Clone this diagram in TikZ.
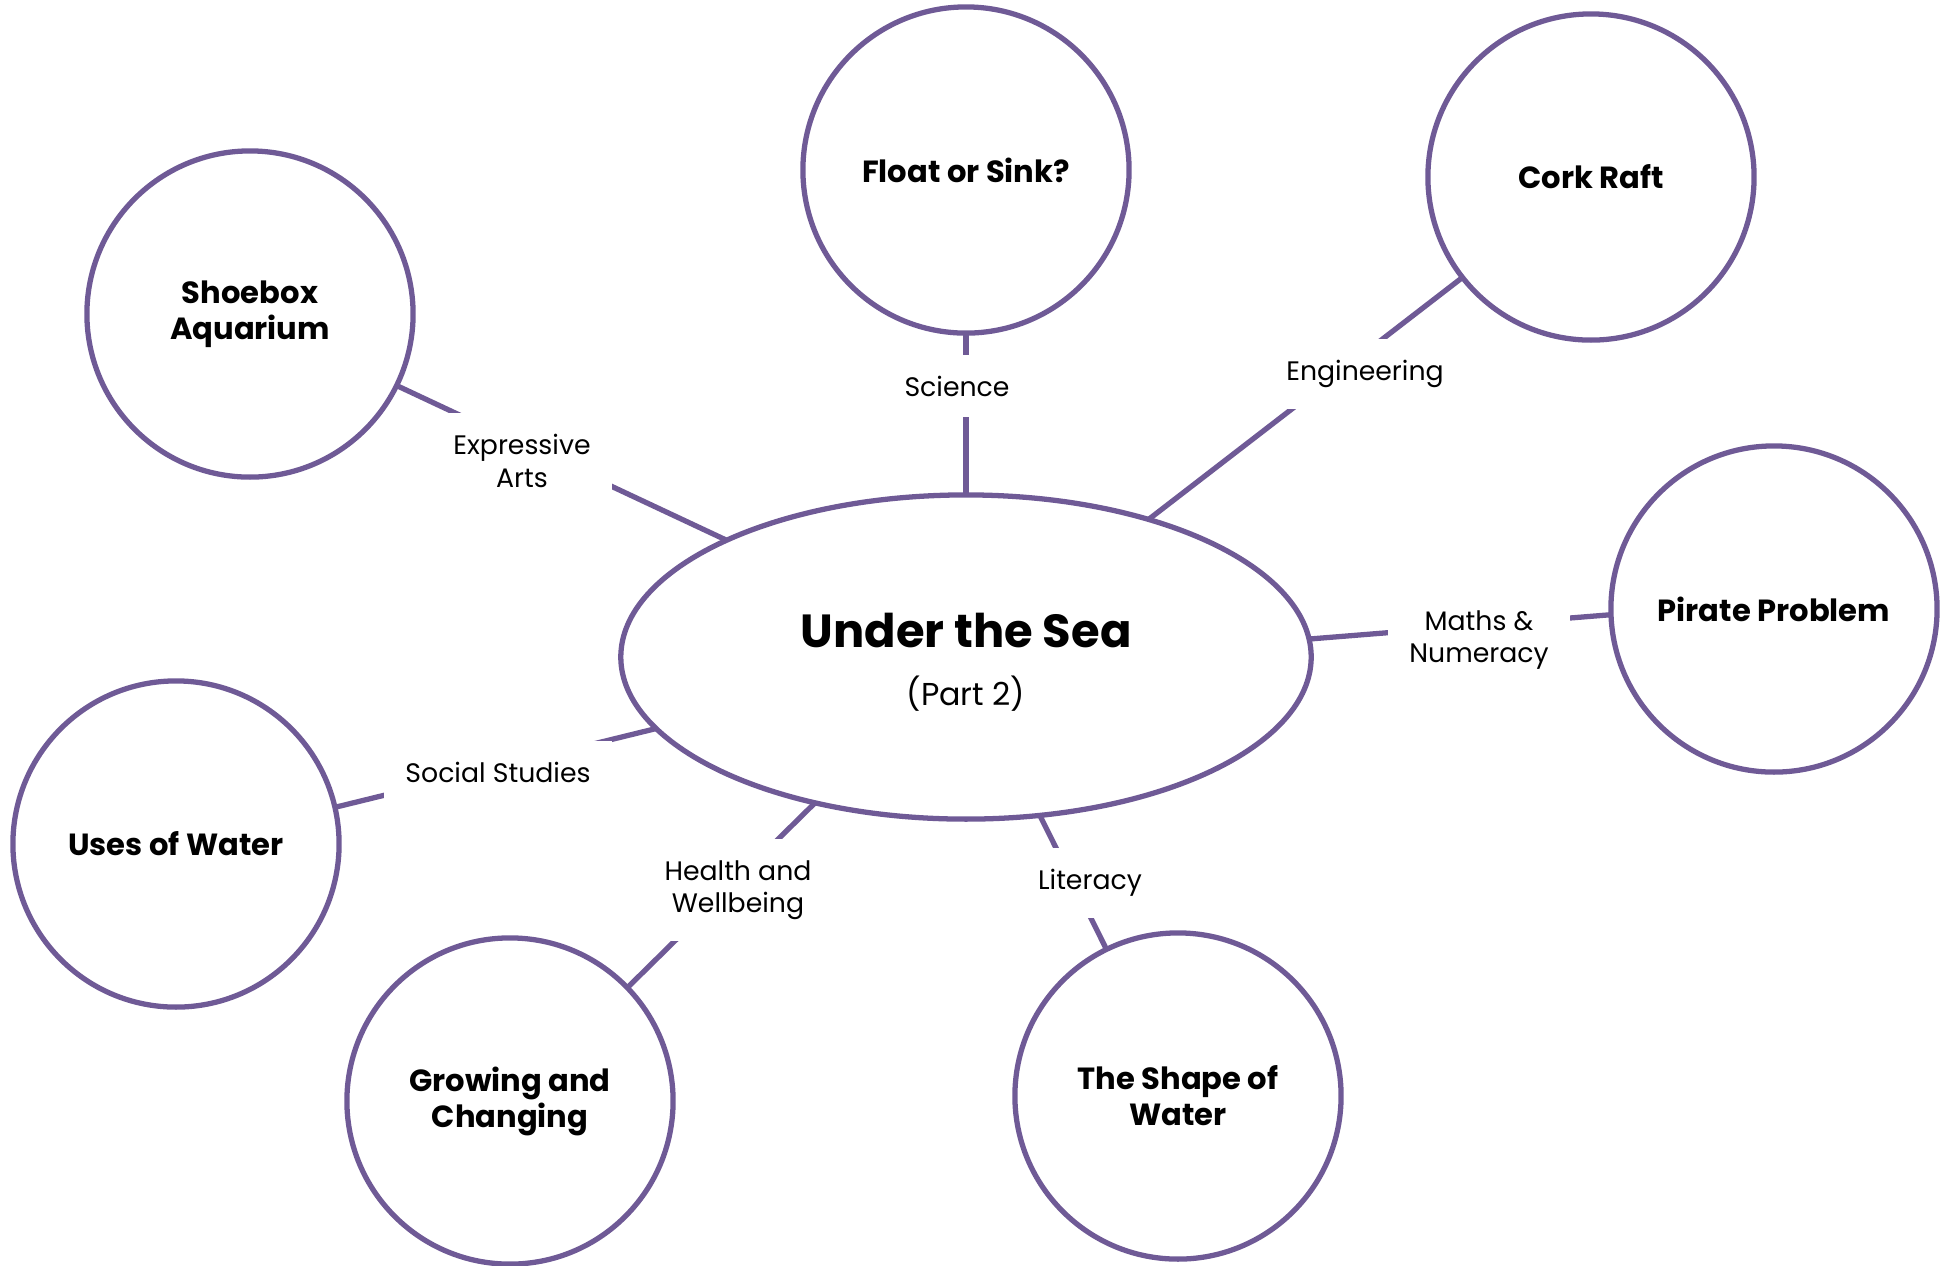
\documentclass[tikz,border=0pt]{standalone}
\usepackage{fontspec}
\setmainfont{Poppins}
\usepackage{tikz}
\usetikzlibrary{shapes.geometric}
\definecolor{ring}{HTML}{6F5A96}
\tikzset{
  hub/.style={ellipse, draw=ring, line width=1.5pt, minimum width=6.9cm, minimum height=3.24cm, inner sep=0pt, outer sep=0pt},
  topic/.style={circle, draw=ring, line width=1.5pt, minimum size=3.26cm, inner sep=0pt, outer sep=0pt, align=center, font=\fontsize{8.7}{10.2}\selectfont\bfseries},
  link/.style={draw=ring, line width=1.5pt},
  subj/.style={fill=white, align=center, font=\fontsize{7.6}{9.2}\selectfont, inner xsep=6pt, inner ysep=6pt},
}

\begin{document}
\begin{tikzpicture}[x=0.01cm, y=-0.01cm]
\useasboundingbox (0,0) rectangle (1944,1265);
\node[hub] (sea) at (966,657) {};
\node[font=\fontsize{13.2}{15}\selectfont\bfseries] (title) at (966,630) {Under the Sea};
\node[font=\fontsize{9}{11}\selectfont] (part) at (966,694) {(Part 2)};
\node[topic] (float) at (966,170) {Float or Sink?};
\node[topic] (cork) at (1591,177) {Cork Raft};
\node[topic] (shoebox) at (250,314) {Shoebox\\Aquarium};
\node[topic] (pirate) at (1774,609) {Pirate Problem};
\node[topic] (uses) at (176,844) {Uses of Water};
\node[topic] (growing) at (510,1101) {Growing and\\Changing};
\node[topic] (shape) at (1178,1096) {The Shape of\\Water};
\draw[link] (sea.90) -- (float.270);
\draw[link] (sea.37.5) -- (cork.218.6);
\draw[link] (sea.154.5) -- (shoebox.334);
\draw[link] (sea.3.3) -- (pirate.182.5);
\draw[link] (sea.193.5) -- (uses.13);
\draw[link] (sea.224.6) -- (growing.44);
\draw[link] (sea.295) -- (shape.116.6);
\node[subj] (sci) at (957,386) {Science};
\node[subj] (eng) at (1365,374) {Engineering};
\node[subj] (art) at (522,461) {Expressive\\Arts};
\node[subj] (math) at (1479,640) {Maths \&\\Numeracy};
\node[subj] (soc) at (498,772) {Social Studies};
\node[subj] (hwb) at (738,890) {Health and\\Wellbeing};
\node[subj] (lit) at (1090,883) {Literacy};
\end{tikzpicture}
\end{document}
